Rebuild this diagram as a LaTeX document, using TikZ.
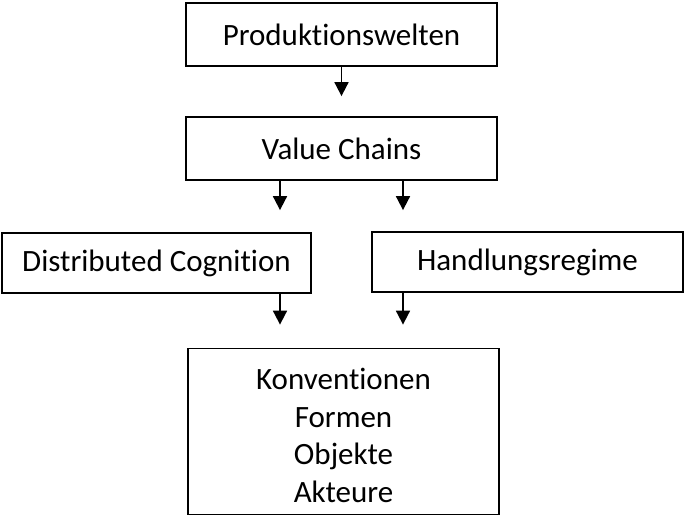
\documentclass[tikz,border=0pt]{standalone}
\usepackage{fontspec}
\setmainfont{Carlito}[Ligatures=NoCommon]
\usetikzlibrary{arrows.meta,positioning}

\begin{document}
\begin{tikzpicture}[x=1pt,y=-1pt]
    \tikzset{box/.style={draw, line width=1.8pt, inner sep=0pt, align=center,
            font=\fontsize{31}{37.5}\selectfont},
        pfeil/.style={line width=1.8pt, -{Triangle[width=14pt,length=14pt]}}}
    \useasboundingbox (0,0) rectangle (685,517);

    \node[box, minimum width=311pt, minimum height=63pt] (prod) at (341.5,34.5) {Produktionswelten};
    \node[box, minimum width=311pt, minimum height=63pt] (value) at (341.5,148.5) {Value Chains};
    \node[box, minimum width=309pt, minimum height=60pt] (dist) at (156.5,263) {Distributed Cognition};
    \node[box, minimum width=311pt, minimum height=60pt] (hand) at (527.5,262) {Handlungsregime};
    \node[box, minimum width=311pt, minimum height=166pt] (konv) at (343.5,431.5)
        {\rule{0pt}{29pt}Konventionen\\Formen\\Objekte\\Akteure};

    \coordinate (links) at (280,0);
    \coordinate (rechts) at (403,0);

    \draw[pfeil, shorten >=20pt] (prod.south) -- (prod.south |- value.north);
    \draw[pfeil, shorten >=22pt] (links |- value.south) -- (links |- dist.north);
    \draw[pfeil, shorten >=21pt] (rechts |- value.south) -- (rechts |- hand.north);
    \draw[pfeil, shorten >=23pt] (links |- dist.south) -- (links |- konv.north);
    \draw[pfeil, shorten >=23pt] (rechts |- hand.south) -- (rechts |- konv.north);
\end{tikzpicture}
\end{document}
